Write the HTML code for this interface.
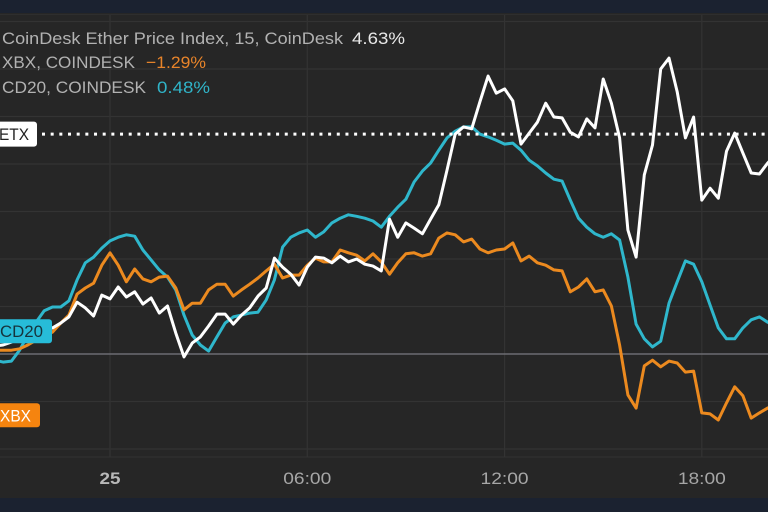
<!DOCTYPE html>
<html>
<head>
<meta charset="utf-8">
<title>CoinDesk Ether Price Index chart</title>
<style>
html,body{margin:0;padding:0;background:#262626;width:768px;height:512px;overflow:hidden}
svg{display:block;font-family:"Liberation Sans",sans-serif}
</style>
</head>
<body>
<svg id="chart" width="768" height="512" viewBox="0 0 768 512" xmlns="http://www.w3.org/2000/svg">
  <rect x="0" y="0" width="768" height="512" fill="#262626"/>
  <rect x="0" y="0" width="768" height="13" fill="#1b2230"/>
  <rect x="0" y="498" width="768" height="14" fill="#1b2230"/>
  <g id="grid"></g>
  <g id="series"></g>
  <g id="labels"></g>
  <g id="ticks"></g>
  <g id="legend"></g>
</svg>
<script>
// Percent change per 15-minute sample, from 20:30 the previous day
const etxValues = [0.17,0.19,0.25,0.34,0.40,0.46,0.51,0.55,0.65,0.78,1.09,0.97,0.80,1.24,1.16,1.41,1.20,1.31,1.05,1.18,0.86,1.01,0.44,-0.06,0.23,0.36,0.59,0.84,0.84,0.63,0.82,0.97,1.22,1.39,2.02,1.83,1.68,1.45,1.83,2.04,2.02,1.92,2.06,1.94,2.00,1.89,1.85,1.75,2.84,2.46,2.76,2.65,2.53,2.84,3.14,3.87,4.63,4.78,4.74,5.31,5.85,5.49,5.58,5.33,4.42,4.65,4.88,5.28,4.99,4.97,4.67,4.57,4.95,4.76,5.79,5.28,4.55,2.61,2.04,3.77,4.40,6.00,6.23,5.52,4.55,4.99,3.24,3.49,3.28,4.27,4.65,4.23,3.81,3.79,4.02,4.20];
const xbxValues = [0.08,0.08,0.08,0.11,0.19,0.29,0.38,0.46,0.65,0.82,1.26,1.39,1.49,1.87,2.13,1.87,1.52,1.79,1.58,1.52,1.62,1.64,1.39,0.93,1.07,1.07,1.35,1.47,1.47,1.22,1.35,1.47,1.60,1.75,1.89,1.60,1.66,1.66,1.87,2.02,1.94,1.94,2.19,2.13,2.08,1.96,2.11,1.94,1.68,1.92,2.11,2.13,2.06,2.11,2.44,2.55,2.51,2.36,2.42,2.21,2.13,2.19,2.21,2.34,1.96,2.06,1.92,1.87,1.77,1.75,1.31,1.41,1.58,1.31,1.35,1.01,0.19,-0.86,-1.14,-0.25,-0.13,-0.27,-0.15,-0.19,-0.38,-0.36,-1.24,-1.26,-1.39,-1.03,-0.69,-0.88,-1.35,-1.24,-1.14,-1.05];
const cd20Values = [-0.13,-0.17,-0.15,0.08,0.40,0.67,0.91,0.99,0.99,1.12,1.56,1.92,2.04,2.23,2.38,2.46,2.51,2.48,2.19,1.98,1.77,1.62,1.35,0.82,0.40,0.19,0.06,0.36,0.65,0.78,0.82,0.86,0.88,1.14,1.56,2.25,2.46,2.55,2.61,2.46,2.57,2.76,2.86,2.93,2.90,2.86,2.80,2.67,2.90,3.09,3.26,3.62,3.85,4.02,4.29,4.55,4.69,4.78,4.78,4.63,4.57,4.50,4.42,4.44,4.29,4.08,3.96,3.81,3.68,3.64,3.24,2.86,2.67,2.53,2.46,2.53,2.40,1.62,0.63,0.32,0.15,0.27,1.07,1.52,1.96,1.89,1.52,1.03,0.55,0.32,0.32,0.55,0.72,0.78,0.67,0.60];
const lastValues = [4.63,-1.29,0.48];
const legendValueText = ['4.63%','\u22121.29%','0.48%'];
const tickHours = [0,6,12,18];
const tickLabels = ['25','06:00','12:00','18:00'];
const gridLevels = [-2,-1,1,2,3,4,5,6,7];
const firstHour = -3.5;
const hourStep = 0.25;

function xScale(hour){ return 110 + hour * 32.88; }
function yScale(pct){ return 354 - pct * 47.5; }

const NS = 'http://www.w3.org/2000/svg';
function make(tag, parent, attrs, text){
  const el = document.createElementNS(NS, tag);
  for (const k in attrs) el.setAttribute(k, attrs[k]);
  if (text !== undefined) el.textContent = text;
  parent.appendChild(el);
  return el;
}

const gridG = document.getElementById('grid');
gridLevels.forEach(function(level){
  const line = make('line', gridG, {x1:0, x2:768, y1:yScale(level), y2:yScale(level), stroke:'#333333', 'stroke-width':1.2});
  
  
});
tickHours.forEach(function(hour){
  const line = make('line', gridG, {x1:xScale(hour), x2:xScale(hour), y1:14, y2:457, stroke:'#333333', 'stroke-width':1.2});
  
  
});
const topRule = make('line', gridG, {x1:0, x2:768, y1:14.5, y2:14.5, stroke:'#2e2e2e', 'stroke-width':1});


const axisRule = make('line', gridG, {x1:0, x2:768, y1:457, y2:457, stroke:'#333333', 'stroke-width':1});


const baseLine = make('line', gridG, {x1:0, x2:768, y1:yScale(0), y2:yScale(0), stroke:'#6c6c72', 'stroke-width':1.4});



function pathFor(values){
  return values.map(function(v, i){
    const x = xScale(firstHour + i * hourStep);
    return (i ? 'L' : 'M') + x.toFixed(1) + ' ' + yScale(v).toFixed(1);
  }).join(' ');
}
const seriesG = document.getElementById('series');
const cd20Line = make('path', seriesG, {d:pathFor(cd20Values), fill:'none', stroke:'#2fb7cc', 'stroke-width':3, 'stroke-linejoin':'round'});


const xbxLine = make('path', seriesG, {d:pathFor(xbxValues), fill:'none', stroke:'#ec8a1f', 'stroke-width':3, 'stroke-linejoin':'round'});


const etxLine = make('path', seriesG, {d:pathFor(etxValues), fill:'none', stroke:'#ffffff', 'stroke-width':3, 'stroke-linejoin':'round'});



const labelsG = document.getElementById('labels');
const priceLine = make('line', labelsG, {x1:42, x2:768, y1:yScale(lastValues[0]), y2:yScale(lastValues[0]), stroke:'#ffffff', 'stroke-width':3, 'stroke-dasharray':'3 5.67'});



const etxTag = make('rect', labelsG, {x:-6, y:yScale(lastValues[0])-12.5, width:43, height:25, rx:3, fill:'#ffffff'});


const etxText = make('text', labelsG, {x:-1, y:yScale(lastValues[0])+6, 'font-size':17, fill:'#222222', textLength:30, lengthAdjust:'spacingAndGlyphs'}, 'ETX');



const xbxTag = make('rect', labelsG, {x:-6, y:yScale(lastValues[1])-12, width:46, height:24, rx:3, fill:'#f5840f'});


const xbxText = make('text', labelsG, {x:0, y:yScale(lastValues[1])+6, 'font-size':17, fill:'#ffffff', textLength:31, lengthAdjust:'spacingAndGlyphs'}, 'XBX');



const cdTag = make('rect', labelsG, {x:-6, y:yScale(lastValues[2])-12, width:58, height:24, rx:3, fill:'#27bcd8'});


const cdText = make('text', labelsG, {x:0, y:yScale(lastValues[2])+6, 'font-size':17, fill:'#16333c', textLength:43, lengthAdjust:'spacingAndGlyphs'}, 'CD20');



const ticksG = document.getElementById('ticks');
tickLabels.forEach(function(label, i){
  const t = make('text', ticksG, {x:xScale(tickHours[i]), y:484, 'text-anchor':'middle', 'font-size':17, fill: i === 0 ? '#b8b8b8' : '#a6a6a6', 'font-weight': i === 0 ? 'bold' : 'normal', textLength: i === 0 ? 21 : 48, lengthAdjust:'spacingAndGlyphs'}, label);
  
  
});

const legendG = document.getElementById('legend');
const l1 = make('text', legendG, {x:2, y:44, 'font-size':17, fill:'#b2b2b2', textLength:341, lengthAdjust:'spacingAndGlyphs'}, 'CoinDesk Ether Price Index, 15, CoinDesk');


const v1 = make('text', legendG, {x:352, y:44, 'font-size':17, fill:'#e8e8e8', textLength:53, lengthAdjust:'spacingAndGlyphs'}, legendValueText[0]);


const l2 = make('text', legendG, {x:2, y:68, 'font-size':17, fill:'#b2b2b2', textLength:133, lengthAdjust:'spacingAndGlyphs'}, 'XBX, COINDESK');


const v2 = make('text', legendG, {x:146, y:68, 'font-size':17, fill:'#e8842a', textLength:60, lengthAdjust:'spacingAndGlyphs'}, legendValueText[1]);


const l3 = make('text', legendG, {x:2, y:93, 'font-size':17, fill:'#b2b2b2', textLength:144, lengthAdjust:'spacingAndGlyphs'}, 'CD20, COINDESK');


const v3 = make('text', legendG, {x:157, y:93, 'font-size':17, fill:'#30b4c8', textLength:53, lengthAdjust:'spacingAndGlyphs'}, legendValueText[2]);


</script>
</body>
</html>
